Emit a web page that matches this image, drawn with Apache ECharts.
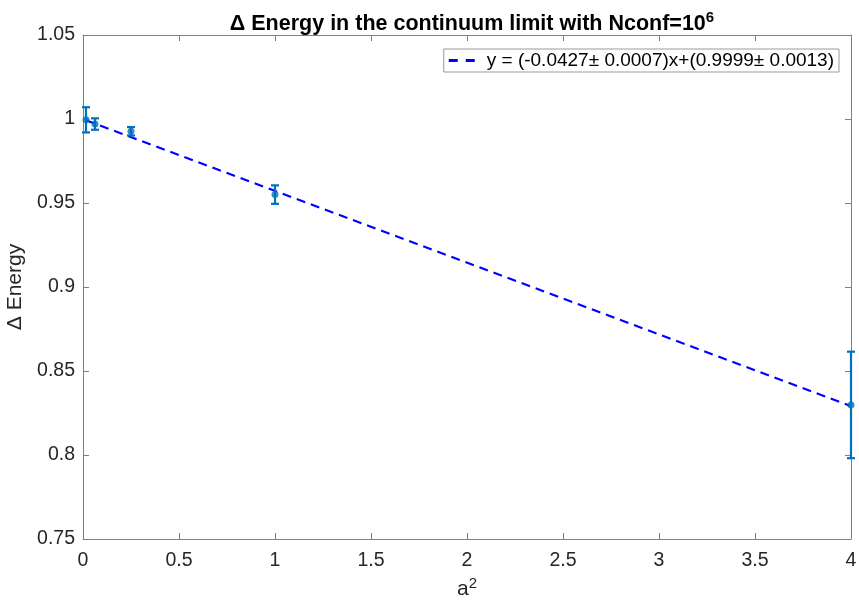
<!DOCTYPE html>
<html>
<head>
<meta charset="utf-8">
<script src="https://cdn.jsdelivr.net/npm/echarts@6/dist/echarts.min.js"></script>
<style>html,body{margin:0;padding:0;background:#fff;}#c{width:859px;height:607px;}</style>
</head>
<body>
<div id="c"></div>
<script>
// Data
var a2 = [0.015625, 0.0625, 0.25, 1, 4];
var energy = [0.9995, 0.9970, 0.9927, 0.9550, 0.8298];
var energyErr = [0.0075, 0.0034, 0.0025, 0.0055, 0.0317];
var fitX = [0.015625, 4];
var fitY = [0.9992, 0.8291];
var xTicks = ['0', '0.5', '1', '1.5', '2', '2.5', '3', '3.5', '4'];
var yTicks = ['0.75', '0.8', '0.85', '0.9', '0.95', '1', '1.05'];
var legendText = 'y = (-0.0427\u00b1 0.0007)x+(0.9999\u00b1 0.0013)';

var FONT = '"Liberation Sans", Arial, Helvetica, sans-serif';
var MCOL = '#0072BD';
var AX = '#808080';
var TXT = '#262626';

var pts = a2.map(function (x, i) { return [x, energy[i]]; });
var errs = a2.map(function (x, i) { return [x, energy[i] - energyErr[i], energy[i] + energyErr[i]]; });
var fit = fitX.map(function (x, i) { return [x, fitY[i]]; });

var chart = echarts.init(document.getElementById('c'), null, {renderer: 'canvas'});
var baseAxis = {
  axisLine: {show: true, onZero: false, lineStyle: {color: AX, width: 1}},
  axisTick: {show: true, inside: true, length: 6, lineStyle: {color: AX}},
  splitLine: {show: false}
};
chart.setOption({
  backgroundColor: '#ffffff',
  animation: false,
  title: {
    text: '\u0394 Energy in the continuum limit with Nconf=10{sup|6}',
    left: 467,
    top: 5,
    textAlign: 'center',
    textStyle: {
      fontFamily: FONT, fontSize: 21.5, fontWeight: 'bold', color: '#000',
      rich: {sup: {fontFamily: FONT, fontSize: 15, fontWeight: 'bold', color: '#000', padding: [0, 0, 14, 0]}}
    }
  },
  legend: {
    right: 20,
    top: 49,
    orient: 'vertical',
    backgroundColor: '#fff',
    borderColor: '#9a9a9a',
    borderWidth: 1,
    borderRadius: 0,
    padding: [2, 5, 2, 5],
    itemWidth: 26,
    itemHeight: 3,
    itemGap: 4,
    data: [{name: legendText, icon: 'path://M0,0h9v3h-9z M17,0h9v3h-9z', itemStyle: {color: '#0000ff'}}],
    textStyle: {fontFamily: FONT, fontSize: 19, color: '#000', padding: [0, 0, 0, 7]}
  },
  grid: {left: 83, right: 8, top: 35, bottom: 68, containLabel: false, outerBoundsMode: 'none'},
  xAxis: [
    Object.assign({}, baseAxis, {
      type: 'value', min: 0, max: 4, interval: 0.5,
      name: 'a{sup|2}', nameLocation: 'middle', nameGap: 32,
      nameTextStyle: {fontFamily: FONT, fontSize: 21, color: TXT,
        rich: {sup: {fontFamily: FONT, fontSize: 15, color: TXT, padding: [0, 0, 12, 0]}}},
      axisLabel: {fontFamily: FONT, fontSize: 19.5, color: TXT, margin: 12,
        formatter: function (v) { var i = Math.round(v / 0.5); return xTicks[i] !== undefined ? xTicks[i] : ''; }}
    }),
    Object.assign({}, baseAxis, {
      type: 'value', min: 0, max: 4, interval: 0.5, position: 'top',
      axisLabel: {show: false}
    })
  ],
  yAxis: [
    Object.assign({}, baseAxis, {
      type: 'value', min: 0.75, max: 1.05, interval: 0.05,
      name: '\u0394 Energy', nameLocation: 'middle', nameGap: 36, nameRotate: 90,
      nameTextStyle: {fontFamily: FONT, fontSize: 21, color: TXT},
      axisLabel: {fontFamily: FONT, fontSize: 19.5, color: TXT, margin: 8,
        formatter: function (v) { var i = Math.round((v - 0.75) / 0.05); return yTicks[i] !== undefined ? yTicks[i] : ''; }}
    }),
    Object.assign({}, baseAxis, {
      type: 'value', min: 0.75, max: 1.05, interval: 0.05, position: 'right',
      axisLabel: {show: false}
    })
  ],
  series: [
    {
      name: legendText,
      type: 'line',
      data: fit,
      showSymbol: false,
      symbol: 'none',
      lineStyle: {color: '#0000ff', width: 2.2, type: [9, 6]},
      itemStyle: {color: '#0000ff'},
      z: 3
    },
    {
      name: 'err',
      type: 'custom',
      data: errs,
      clip: false,
      z: 4,
      renderItem: function (params, api) {
        var x = api.value(0);
        var lo = api.coord([x, api.value(1)]);
        var hi = api.coord([x, api.value(2)]);
        var cw = 4;
        var st = {stroke: MCOL, lineWidth: 2.2, fill: 'none'};
        return {
          type: 'group',
          children: [
            {type: 'line', shape: {x1: lo[0], y1: lo[1], x2: hi[0], y2: hi[1]}, style: st},
            {type: 'line', shape: {x1: lo[0] - cw, y1: lo[1], x2: lo[0] + cw, y2: lo[1]}, style: st},
            {type: 'line', shape: {x1: hi[0] - cw, y1: hi[1], x2: hi[0] + cw, y2: hi[1]}, style: st}
          ]
        };
      }
    },
    {
      name: 'pts',
      type: 'scatter',
      data: pts,
      symbol: 'circle',
      symbolSize: 7,
      clip: false,
      itemStyle: {color: MCOL},
      z: 5
    }
  ]
});
</script>
</body>
</html>
